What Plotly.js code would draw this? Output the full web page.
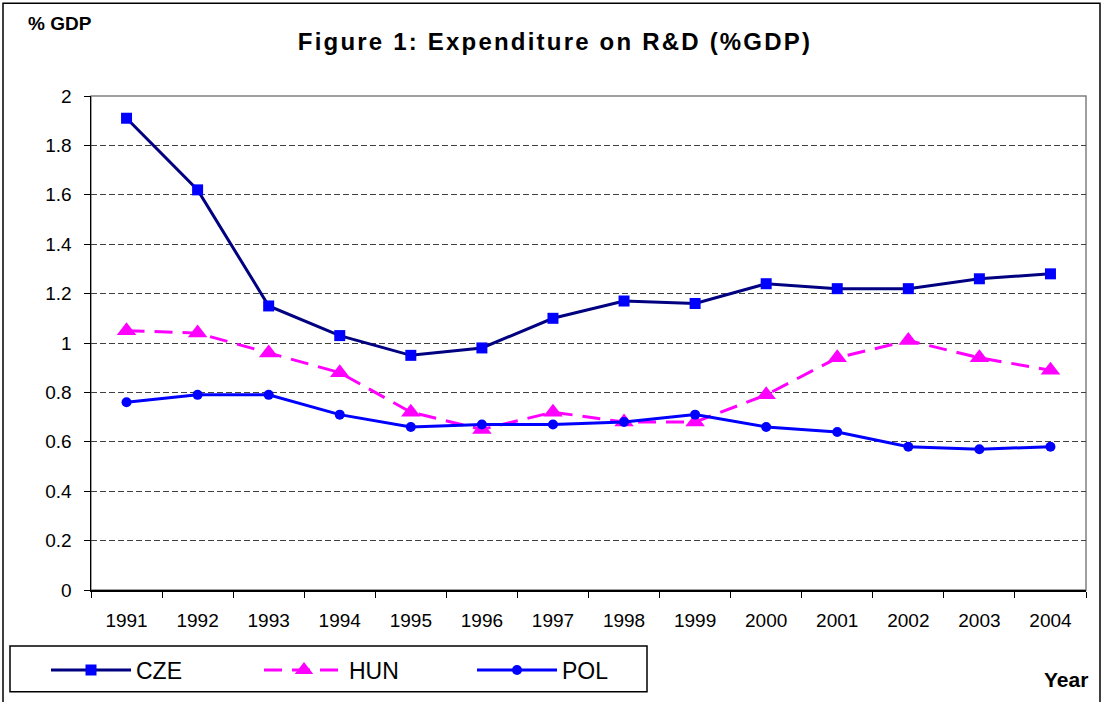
<!DOCTYPE html>
<html>
<head>
<meta charset="utf-8">
<script src="https://cdn.plot.ly/plotly-3.0.1.min.js"></script>
<style>html,body{margin:0;padding:0;background:#fff;}#chart{width:1104px;height:702px;}
.gtitle{letter-spacing:2.2px;}
</style>
</head>
<body>
<div id="chart"></div>
<script>
const years = ['1991','1992','1993','1994','1995','1996','1997','1998','1999','2000','2001','2002','2003','2004'];
const cze = [1.91, 1.62, 1.15, 1.03, 0.95, 0.98, 1.10, 1.17, 1.16, 1.24, 1.22, 1.22, 1.26, 1.28];
const hun = [1.05, 1.04, 0.96, 0.88, 0.72, 0.65, 0.72, 0.68, 0.68, 0.79, 0.94, 1.01, 0.94, 0.89];
const pol = [0.76, 0.79, 0.79, 0.71, 0.66, 0.67, 0.67, 0.68, 0.71, 0.66, 0.64, 0.58, 0.57, 0.58];
const yTicks = [0, 0.2, 0.4, 0.6, 0.8, 1, 1.2, 1.4, 1.6, 1.8, 2];

const font = 'Liberation Sans, Arial, sans-serif';

const traces = [
  {x: years, y: cze, name: 'CZE', type: 'scatter', mode: 'lines+markers',
   line: {color: '#000080', width: 3},
   marker: {symbol: 'square', size: 11, color: '#0000FF'}},
  {x: years, y: hun, name: 'HUN', type: 'scatter', mode: 'lines+markers',
   line: {color: '#FF00FF', width: 3, dash: '18px,10px'},
   marker: {symbol: 'triangle-up', size: 17, color: '#FF00FF'}},
  {x: years, y: pol, name: 'POL', type: 'scatter', mode: 'lines+markers',
   line: {color: '#0000FF', width: 3},
   marker: {symbol: 'circle', size: 10, color: '#0000FF'}}
];

const L = 91, R = 1086, T = 96, B = 591;
const fx = px => (px - L) / (R - L);
const fy = py => (B - py) / (B - T);

const layout = {
  width: 1104, height: 702,
  margin: {l: L, r: 1104 - R, t: T, b: 702 - B, pad: 0},
  paper_bgcolor: '#ffffff', plot_bgcolor: '#ffffff',
  font: {family: font, color: '#000', size: 19},
  showlegend: true,
  title: {text: '<b>Figure 1: Expenditure on R&D (%GDP)</b>', font: {family: font, size: 24, color: '#000'},
          xref: 'container', yref: 'container', x: 555/1104, y: 1 - 42/702, xanchor: 'center', yanchor: 'middle'},
  xaxis: {type: 'category', range: [-0.5, 13.5], showgrid: false, zeroline: false,
          showline: true, linecolor: '#000', linewidth: 1.5,
          ticks: 'outside', ticklen: 6, tickcolor: '#000', tickson: 'boundaries',
          ticklabelstandoff: 13,
          tickfont: {family: font, size: 19, color: '#000'}, fixedrange: true},
  yaxis: {range: [0, 2], tickvals: yTicks, ticktext: yTicks.map(String), showgrid: true,
          gridcolor: '#404040', gridwidth: 1, griddash: '6px,3px', zeroline: false,
          showline: true, linecolor: '#000', linewidth: 1.5,
          ticks: 'outside', ticklen: 6, tickcolor: '#000', ticklabelstandoff: 8,
          tickfont: {family: font, size: 19, color: '#000'}, fixedrange: true},
  legend: {orientation: 'h', x: fx(46), y: fy(670), xanchor: 'left', yanchor: 'middle',
           borderwidth: 0, bgcolor: 'rgba(0,0,0,0)',
           font: {family: font, size: 23, color: '#000'},
           entrywidth: 118, entrywidthmode: 'pixels', itemwidth: 80,
           traceorder: 'normal'},
  shapes: [
    {type: 'rect', xref: 'paper', yref: 'paper', x0: 0, x1: 1, y0: 0, y1: 1,
     line: {color: '#808080', width: 1.5}, fillcolor: 'rgba(0,0,0,0)', layer: 'below'},
    {type: 'rect', xref: 'paper', yref: 'paper', x0: fx(3), x1: fx(1100), y0: fy(720), y1: fy(3),
     line: {color: '#000', width: 1.5}, fillcolor: 'rgba(0,0,0,0)', layer: 'below'},
    {type: 'rect', xref: 'paper', yref: 'paper', x0: fx(10), x1: fx(647), y0: fy(693), y1: fy(647),
     line: {color: '#000', width: 1.5}, fillcolor: '#ffffff', layer: 'below'}
  ],
  annotations: [
    {text: '<b>% GDP</b>', xref: 'paper', yref: 'paper', x: fx(26), y: fy(23),
     xanchor: 'left', yanchor: 'middle', showarrow: false, font: {family: font, size: 19, color: '#000'}},
    {text: '<b>Year</b>', xref: 'paper', yref: 'paper', x: fx(1090), y: fy(681),
     xanchor: 'right', yanchor: 'middle', showarrow: false, font: {family: font, size: 21, color: '#000'}}
  ]
};

Plotly.newPlot('chart', traces, layout, {displayModeBar: false, staticPlot: true});
</script>
</body>
</html>
